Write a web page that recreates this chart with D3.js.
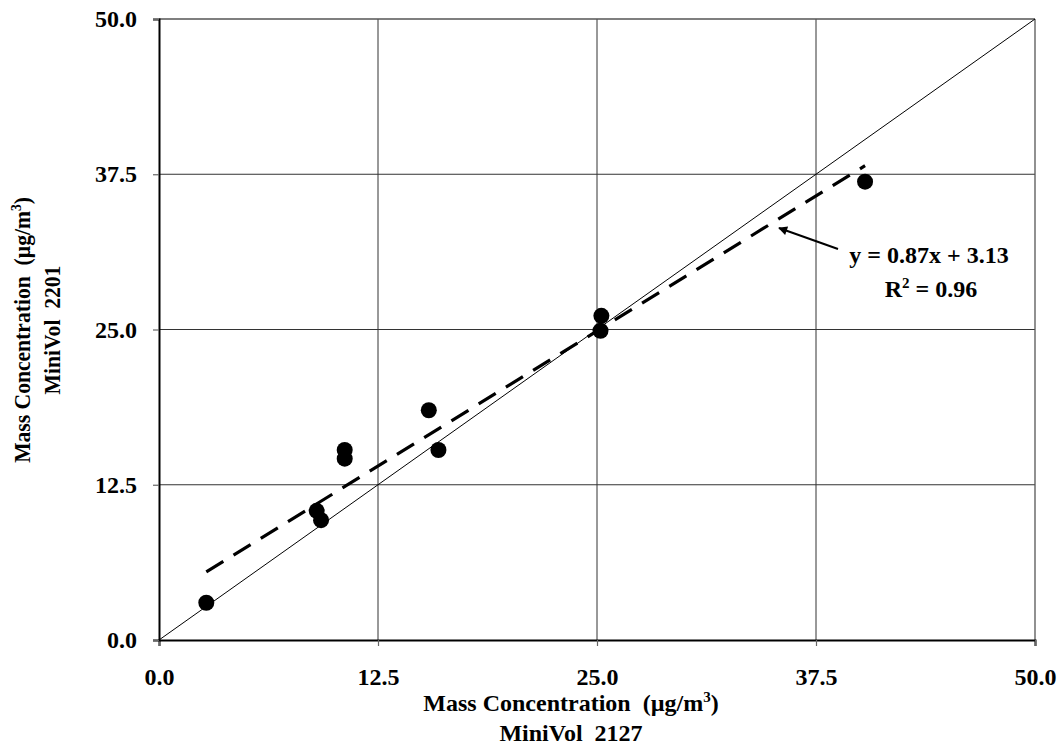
<!DOCTYPE html>
<html><head><meta charset="utf-8">
<script src="https://cdn.jsdelivr.net/npm/d3@7"></script>
<style>body{margin:0;background:#fff}</style>
</head><body>
<svg id="c" width="1063" height="747"></svg>
<script>
const xTicks = [0, 12.5, 25, 37.5, 50];
const yTicks = [0, 12.5, 25, 37.5, 50];
const xVals = [2.7, 9.0, 9.25, 10.6, 10.6, 15.4, 15.95, 25.25, 25.2, 40.3];
const yVals = [3.0, 10.4, 9.65, 15.3, 14.6, 18.5, 15.3, 26.1, 24.9, 36.9];
const slope = 0.87, intercept = 3.13;
const eqLines = ["y = 0.87x + 3.13", "R² = 0.96"];

const font = "'Liberation Serif','Times New Roman',serif";
const FS = 24;
const svg = d3.select("#c");
const L = 159, R = 1035, T = 19, B = 640;
const x = d3.scaleLinear().domain([0, 50]).range([L, R]);
const y = d3.scaleLinear().domain([0, 50]).range([B, T]);

// gridlines
const g = svg.append("g");
g.selectAll(".gx").data(xTicks.slice(1, -1)).join("line")
  .attr("x1", d => x(d)).attr("x2", d => x(d)).attr("y1", T).attr("y2", B)
  .attr("stroke", "#333").attr("stroke-width", 1);
g.selectAll(".gy").data(yTicks.slice(1, -1)).join("line")
  .attr("y1", d => y(d)).attr("y2", d => y(d)).attr("x1", L).attr("x2", R)
  .attr("stroke", "#333").attr("stroke-width", 1);

// frame
svg.append("line").attr("x1", L).attr("x2", R).attr("y1", T).attr("y2", T).attr("stroke", "#555").attr("stroke-width", 1.3);
svg.append("line").attr("x1", R).attr("x2", R).attr("y1", T).attr("y2", B).attr("stroke", "#555").attr("stroke-width", 1.3);

// axes
const xAxis = d3.axisBottom(x).tickValues(xTicks).tickFormat(d3.format(".1f")).tickSize(6).tickPadding(22);
const yAxis = d3.axisLeft(y).tickValues(yTicks).tickFormat(d3.format(".1f")).tickSize(6).tickPadding(16);
const xa = svg.append("g").attr("transform", `translate(0,${B})`).call(xAxis);
const ya = svg.append("g").attr("transform", `translate(${L},0)`).call(yAxis);
[xa, ya].forEach(a => {
  a.attr("font-size", null).attr("font-family", null);
  a.select(".domain").attr("stroke", "#000").attr("stroke-width", 2);
  a.selectAll(".tick line").attr("stroke", "#666").attr("stroke-width", 1.2);
  a.selectAll(".tick text").attr("font-family", font).attr("font-weight", "bold")
    .attr("font-size", FS).attr("fill", "#000");
});

// 1:1 line
svg.append("line").attr("x1", x(0)).attr("y1", y(0)).attr("x2", x(50)).attr("y2", y(50))
  .attr("stroke", "#000").attr("stroke-width", 1);

// regression line
const xmin = d3.min(xVals), xmax = d3.max(xVals);
svg.append("line")
  .attr("x1", x(xmin)).attr("y1", y(slope * xmin + intercept))
  .attr("x2", x(xmax)).attr("y2", y(slope * xmax + intercept))
  .attr("stroke", "#000").attr("stroke-width", 3.2).attr("stroke-dasharray", "20,12");

// points
svg.selectAll(".pt").data(xVals.map((v, i) => [v, yVals[i]])).join("circle")
  .attr("cx", d => x(d[0])).attr("cy", d => y(d[1])).attr("r", 8).attr("fill", "#000");

// arrow
svg.append("defs").append("marker").attr("id", "ah").attr("viewBox", "0 0 10 10")
  .attr("refX", 9).attr("refY", 5).attr("markerWidth", 12).attr("markerHeight", 9)
  .attr("markerUnits", "userSpaceOnUse").attr("orient", "auto")
  .append("path").attr("d", "M0,0 L10,5 L0,10 Z").attr("fill", "#000");
svg.append("line").attr("x1", 838).attr("y1", 249).attr("x2", 779).attr("y2", 228)
  .attr("stroke", "#000").attr("stroke-width", 2).attr("marker-end", "url(#ah)");

// equation text
const eq = svg.append("text").attr("font-family", font).attr("font-weight", "bold")
  .attr("font-size", FS).attr("text-anchor", "middle").attr("fill", "#000");
eq.append("tspan").attr("x", 929).attr("y", 263).text(eqLines[0]);
const r2 = eq.append("tspan").attr("x", 931).attr("y", 297);
r2.append("tspan").text("R");
r2.append("tspan").attr("font-size", 15).attr("dy", -9).text("2");
r2.append("tspan").attr("dy", 9).text(" = 0.96");

// axis titles
function title(sel, cx, cy, text2) {
  const t = sel.append("text").attr("font-family", font).attr("font-weight", "bold")
    .attr("font-size", FS).attr("text-anchor", "middle").attr("fill", "#000")
    .style("white-space", "pre");
  t.append("tspan").attr("x", cx).attr("y", cy).text("Mass Concentration  (\u00b5g/m");
  t.append("tspan").attr("font-size", 15).attr("dy", -9).text("3");
  t.append("tspan").attr("dy", 9).text(")");
  t.append("tspan").attr("x", cx).attr("y", cy + 30).text(text2);
  return t;
}
title(svg, 571, 711, "MiniVol  2127");
const yt = svg.append("g").attr("transform", "translate(30,330) rotate(-90) scale(0.9,1)");
title(yt, 0, 0, "MiniVol  2201");
</script>
</body></html>
